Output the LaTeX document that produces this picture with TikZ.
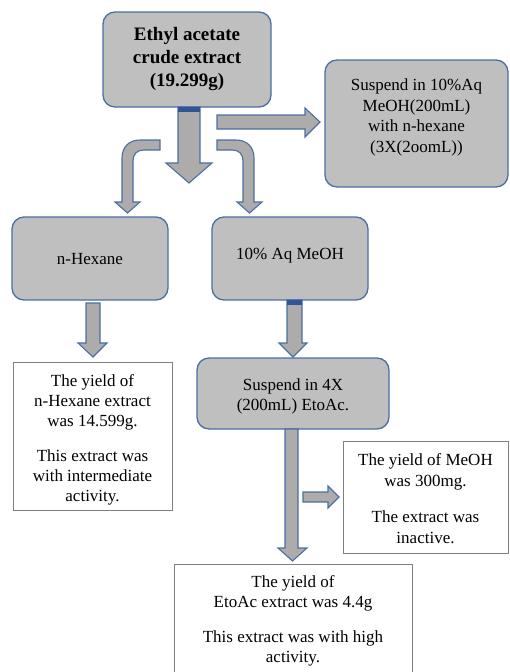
\documentclass[tikz,border=0pt]{standalone}
\usepackage{fontspec}
\setmainfont{Liberation Serif}
\definecolor{boxfill}{HTML}{BFBFBF}
\definecolor{boxline}{HTML}{4A6FA5}
\definecolor{arrfill}{HTML}{AEABAB}
\definecolor{band}{HTML}{2F5597}
\definecolor{wline}{HTML}{7F7F7F}
\tikzset{
  graybox/.style={draw=boxline, line width=1.3pt, fill=boxfill, rounded corners=12pt, inner sep=0pt, align=center, font=\fontsize{17}{20}\selectfont},
  whitebox/.style={draw=wline, line width=0.9pt, fill=white, inner sep=0pt, align=center},
  txt/.style={align=center, inner sep=0pt, font=\fontsize{17}{20}\selectfont},
  blockarrow/.style={draw=boxline, line width=1.1pt, fill=arrfill, line join=miter},
}
\begin{document}
\begin{tikzpicture}[x=1pt,y=-1pt]
\useasboundingbox (0,0) rectangle (510,672);
% boxes
\node[graybox, minimum width=168pt, minimum height=95pt, font=\fontsize{19}{23}\selectfont\bfseries] (top) at (187,59.5) {Ethyl acetate\\crude extract\\(19.299g)};
\node[graybox, minimum width=183pt, minimum height=127pt] (susp) at (416.5,123.5) {};
\node[txt, font=\fontsize{17}{20.8}\selectfont] (susptxt) at (416.5,117.5) {Suspend in 10\%Aq\\MeOH(200mL)\\with n-hexane\\(3X(2oomL))};
\node[graybox, minimum width=156pt, minimum height=83pt] (hex) at (90,258.5) {};
\node[txt] (hextxt) at (90,259.5) {n-Hexane};
\node[graybox, minimum width=156pt, minimum height=83pt] (meoh) at (290,258.5) {};
\node[txt] (meohtxt) at (290,256) {10\% Aq MeOH};
\node[whitebox, minimum width=159pt, minimum height=148pt] (hexres) at (92.5,436) {};
\node[txt] (hexrestxt) at (92.5,439.5) {The yield of\\n-Hexane extract\\was 14.599g.\\[15pt]This extract was\\with intermediate\\activity.};
\node[graybox, minimum width=192pt, minimum height=71pt] (etsusp) at (293,393.5) {};
\node[txt] (etsusptxt) at (293,396) {Suspend in 4X\\(200mL) EtoAc.};
\node[whitebox, minimum width=165pt, minimum height=112pt] (meohres) at (425.5,497) {};
\node[txt, font=\fontsize{17}{21}\selectfont] (meohrestxt) at (425.5,498.5) {The yield of MeOH\\was 300mg.\\[15pt]The extract was\\inactive.};
\node[whitebox, minimum width=238pt, minimum height=112pt, anchor=north] (etres) at (293,564) {};
\node[txt] (etrestxt) at (293,621) {The yield of\\EtoAc extract was 4.4g\\[15pt]This extract was with high\\activity.};
% main down arrow
\draw[blockarrow] (178,107) -- (178,163) -- (166,163) -- (189,183) -- (212,163) -- (200,163) -- (200,107) -- cycle;
\fill[band] (178,106.5) rectangle (200,112);
% right arrow
\draw[blockarrow] (217,115) -- (305,115) -- (305,108) -- (320,122) -- (305,137) -- (305,129) -- (217,129) -- cycle;
% left bent arrow
\draw[blockarrow] (160,140) -- (140,140) .. controls (129,140) and (122,147) .. (122,158) -- (122,202) -- (115,202) -- (127.5,213) -- (140,202) -- (133,202) -- (133,161) .. controls (133,154) and (137,150) .. (144,150) -- (160,150) -- cycle;
% right bent arrow
\draw[blockarrow] (217,140) -- (236,140) .. controls (247,140) and (254,147) .. (254,158) -- (254,202) -- (262,202) -- (249.5,213) -- (237,202) -- (243,202) -- (243,161) .. controls (243,154) and (239,150) .. (232,150) -- (217,150) -- cycle;
% arrow below n-Hexane
\draw[blockarrow] (86,303) -- (86,343) -- (78,343) -- (93,357) -- (107,343) -- (100,343) -- (100,303) -- cycle;
% arrow below 10% Aq MeOH
\draw[blockarrow] (287,300) -- (287,343) -- (279,343) -- (293,357) -- (307,343) -- (302,343) -- (302,300) -- cycle;
\fill[band] (287,299.5) rectangle (302,305);
% long arrow down
\draw[blockarrow] (285,429) -- (285,548) -- (278,548) -- (292.5,561) -- (307,548) -- (298,548) -- (298,429) -- cycle;
% small right arrow
\draw[blockarrow] (303,492) -- (328,492) -- (328,486) -- (339,497) -- (328,508) -- (328,502) -- (303,502) -- cycle;
\end{tikzpicture}
\end{document}
